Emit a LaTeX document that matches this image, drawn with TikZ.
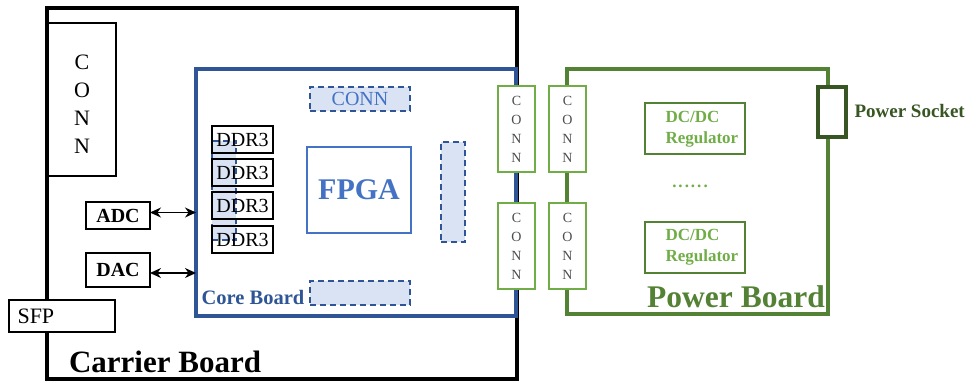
\documentclass[tikz,border=0pt]{standalone}
\usepackage{fontspec}
\setmainfont{Liberation Serif}
\usetikzlibrary{arrows.meta}
\definecolor{coreblue}{HTML}{2F5597}
\definecolor{fpgablue}{HTML}{4472C4}
\definecolor{lightblue}{HTML}{DAE3F3}
\definecolor{pgreen}{HTML}{548235}
\definecolor{cgreen}{HTML}{70AD47}
\definecolor{sgreen}{HTML}{375623}
\tikzset{
  box/.style={draw, anchor=north west, inner sep=0pt, outer sep=0pt},
  dashbox/.style={box, draw=coreblue, fill=lightblue, line width=1.5pt, dash pattern=on 6pt off 4pt},
  gconn/.style={box, draw=cgreen, fill=white, line width=2pt, minimum width=37pt, minimum height=86pt,
     align=center, text=black!70, font=\fontsize{14}{19}\selectfont},
  ddrbox/.style={box, line width=2.5pt, minimum width=61pt, minimum height=27pt, font=\fontsize{20}{22}\selectfont},
  dcbox/.style={box, draw=pgreen, line width=2pt, minimum width=100pt, minimum height=51pt},
  dctext/.style={text=cgreen, font=\bfseries\fontsize{17}{21}\selectfont, align=left, anchor=west},
  arr/.style={{Stealth[length=11pt,width=10pt]}-{Stealth[length=11pt,width=10pt]}, line width=1.3pt}
}
\begin{document}
\begin{tikzpicture}[x=1pt,y=-1pt]
\useasboundingbox (0,0) rectangle (978,383);
% carrier board
\node[box, line width=4pt, minimum width=470pt, minimum height=371pt] (carrier) at (47,8) {};
\node[box, fill=white, line width=1.5pt, minimum width=68pt, minimum height=153pt] (cconn) at (48,23) {};
\node[align=center, font=\fontsize{22}{28}\selectfont] (cconnt) at (82,104) {C\\O\\N\\N};
\node[box, line width=1.5pt, minimum width=64pt, minimum height=27pt, font=\bfseries\fontsize{20}{22}\selectfont] (adc) at (86,202) {ADC};
\node[box, line width=1.5pt, minimum width=64pt, minimum height=34pt, font=\bfseries\fontsize{20}{22}\selectfont] (dac) at (86,253) {DAC};
\node[box, fill=white, line width=1.5pt, minimum width=106pt, minimum height=32pt] (sfp) at (9,300) {};
\node[anchor=west, font=\fontsize{22}{24}\selectfont] (sfpt) at (14,316) {SFP};
\node[font=\bfseries\fontsize{31}{33}\selectfont] (carriert) at (165,362) {Carrier Board};
% core board
\node[box, draw=coreblue, fill=white, line width=3.5pt, minimum width=320pt, minimum height=247pt] (core) at (196,69) {};
\node[dashbox, minimum width=100pt, minimum height=24pt, text=fpgablue, font=\fontsize{20}{22}\selectfont] (coreconn) at (310,87) {CONN};
\node[dashbox, minimum width=24pt, minimum height=100pt] (rconn) at (441,142) {};
\node[dashbox, minimum width=100pt, minimum height=24pt] (bconn) at (310,281) {};
\node[dashbox, minimum width=24pt, minimum height=99pt] (ddrbus) at (212,141) {};
\node[ddrbox] (ddr1) at (212,126) {DDR3};
\node[ddrbox] (ddr2) at (212,159) {DDR3};
\node[ddrbox] (ddr3) at (212,192) {DDR3};
\node[ddrbox] (ddr4) at (212,226) {DDR3};
\node[box, draw=fpgablue, line width=2pt, minimum width=104pt, minimum height=86pt, text=fpgablue, font=\bfseries\fontsize{30}{32}\selectfont] (fpga) at (307,147) {FPGA};
\node[text=coreblue, font=\bfseries\fontsize{20.5}{22}\selectfont] (coret) at (253,297) {Core Board};
% arrows
\draw[arr] ([yshift=3pt]adc.east) -- ([yshift=3pt]adc.east -| core.west);
\draw[arr] ([yshift=-3pt]dac.east) -- ([yshift=-3pt]dac.east -| core.west);
% power board
\node[box, draw=pgreen, line width=4pt, minimum width=261pt, minimum height=245pt] (power) at (567,69) {};
\node[box, draw=sgreen, fill=white, line width=3.5pt, minimum width=28pt, minimum height=50pt] (socket) at (818,87) {};
\node[anchor=west, text=sgreen, font=\bfseries\fontsize{19}{21}\selectfont] (sockett) at (851,111) {Power Socket};
\node[gconn] (g1) at (498,86) {C\\O\\N\\N};
\node[gconn] (g2) at (498,203) {C\\O\\N\\N};
\node[gconn] (g3) at (549,86) {C\\O\\N\\N};
\node[gconn] (g4) at (549,203) {C\\O\\N\\N};
\node[dcbox] (dc1) at (645,103) {};
\node[dctext] (dc1t) at (662,129) {DC/DC\\Regulator};
\node[dcbox] (dc2) at (645,222) {};
\node[dctext] (dc2t) at (662,247) {DC/DC\\Regulator};
\node[text=cgreen, font=\bfseries\fontsize{17}{19}\selectfont] (dots) at (690,186) {.\hspace{2pt}.\hspace{2pt}.\hspace{2pt}.\hspace{2pt}.\hspace{2pt}.};
\node[text=pgreen, font=\bfseries\fontsize{31.5}{33}\selectfont] (powert) at (736,297) {Power Board};
\end{tikzpicture}
\end{document}
